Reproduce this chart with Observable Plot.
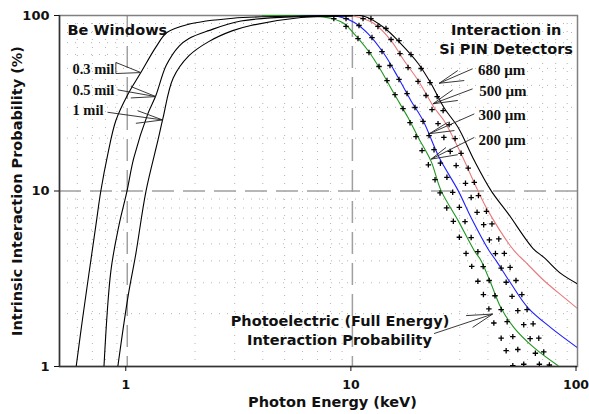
<!DOCTYPE html>
<html><head><meta charset="utf-8">
<script src="https://cdn.jsdelivr.net/npm/d3@7"></script>
<script src="https://cdn.jsdelivr.net/npm/@observablehq/plot@0.6"></script>
<style>body{margin:0;background:#fff}</style>
</head><body><div id="chart"></div>
<script>
// ---- axes / grid values ----
const xTicks = [1, 10, 100];
const yTicks = [1, 10, 100];
const xMinor = [0.6, 0.7, 0.8, 0.9, 2, 3, 4, 5, 6, 7, 8, 9, 20, 30, 40, 50, 60, 70, 80, 90];
const yMinor = [2, 3, 4, 5, 6, 7, 8, 9, 20, 30, 40, 50, 60, 70, 80, 90];
const xMajor = [1, 10];
const yMajor = [10];

// ---- Be window transmission curves [keV, %] ----
const be03 = [[0.593,1],[0.633,1.87],[0.725,6.35],[0.763,10],[0.82,16.3],[0.89,25.2],[1.0,35],[1.149,47.3],[1.34,66],[1.5,80],[1.86,89],[2.95,96.5],[5.9,99.3],[10,99.9]];
const be05 = [[0.788,1],[0.846,3.52],[0.918,6.35],[0.996,9.93],[1.07,15.5],[1.235,27.6],[1.34,35],[1.49,52],[1.7,67],[1.88,74],[2.3,82],[3.2,93],[5.92,98.7],[10,99.9]];
const be1  = [[0.908,1],[1.006,2.47],[1.092,4.4],[1.21,9.93],[1.368,19.4],[1.44,25.9],[1.6,44],[1.88,59],[2.3,71],[2.94,82],[3.54,87.7],[5.92,97.4],[10,99.9]];

// ---- Si PIN total interaction probability [keV, %] ----
const si680 = [[5,100],[9,99.9],[11.27,99],[13.8,85.4],[16.4,69.2],[19.6,53.3],[22.35,41],[25.5,29.9],[29.5,23],[34.8,14.9],[41.3,10.05],[49.2,7.43],[63.5,4.7],[71.1,4.17],[84.5,3.38],[100,2.96]];
const si500 = [[5,100],[8,99.8],[10.16,99],[12.47,90],[14.85,72],[16.96,55.4],[19.6,42.6],[23.07,29.9],[25.5,25.2],[30.4,16.3],[36.1,10.05],[40,7.73],[52.3,4.57],[57.9,4.01],[71.1,3.08],[87.3,2.47],[100,2.14]];
const si300 = [[4,100],[7,99.8],[8.9,97.8],[10.16,91.6],[11.73,78.9],[13.8,60.7],[15.97,44.3],[18.2,32.7],[20.6,25.2],[24.3,15.5],[29.5,10.05],[33.7,7.05],[40.5,4.57],[43.5,4.01],[50.7,2.96],[60.3,2.16],[76.3,1.66],[100,1.28]];
const si200 = [[4,100],[6,99.7],[7.2,98.5],[8.17,95.8],[9.18,90],[10.16,78.9],[11.73,63.2],[13.4,48.6],[15.3,35.9],[17.66,26.2],[19.6,20.2],[22.35,14.8],[24.77,10.05],[29.5,6.78],[34.8,4.57],[37.3,4.01],[41.3,2.96],[45.7,2.16],[52.3,1.66],[64.1,1.28],[82,1.01]];

// ---- Photoelectric (full energy) probability markers [keV, %] ----
const pe200 = [[8.27,96.1],[9.37,86.6],[10.59,73.9],[11.85,61.5],[13.13,51.2],[14.25,42.6],[15.47,35.4],[16.78,29.5],[18.03,24.5],[19.17,20.4],[20.39,17.0],[21.75,14.1],[23.29,11.6],[24.51,9.75],[26.25,8.01],[28.08,6.72],[29.87,5.45],[31.98,4.41],[33.9,3.72],[36.1,3.06],[38.2,2.57],[40.4,2.13],[42.5,1.77],[45.8,1.45],[48.2,1.23],[51.6,1.01]];
const pe300 = [[9.37,96.1],[10.7,87.7],[12.22,74.9],[13.54,62.3],[14.69,51.9],[16.11,43.2],[17.49,35.9],[18.97,29.9],[20.6,24.9],[21.9,20.7],[23.05,17.2],[24.6,14.4],[26.3,11.97],[27.9,9.83],[29.87,8.07],[31.65,6.69],[33.7,5.43],[36.1,4.51],[38.1,3.71],[40.5,3.09],[43.0,2.53],[45.8,2.11],[48.7,1.8],[51.6,1.48],[54.3,1.25],[57.7,1.03]];
const pe500 = [[11.15,96.1],[12.99,86.6],[14.85,73.0],[16.27,60.7],[17.67,50.5],[19.57,42.1],[21.24,35.0],[22.58,29.1],[24.01,24.2],[25.5,20.2],[27.2,16.8],[28.9,13.96],[31.8,11.06],[33.7,9.17],[35.8,7.56],[38.3,6.43],[40.6,5.26],[43.2,4.4],[45.8,3.64],[48.2,3.02],[51.2,2.51],[54.3,2.08],[57.7,1.73],[61.6,1.44],[65.0,1.19],[67.7,1.03]];
const pe680 = [[12.09,96.1],[14.1,84.3],[16.11,72.0],[18.21,59.9],[20.2,49.9],[22.13,41.5],[23.8,34.5],[25.3,28.7],[26.9,23.9],[28.6,19.9],[30.4,16.4],[32.7,13.5],[34.8,11.2],[36.3,9.41],[39.4,7.66],[41.7,6.49],[44.7,5.33],[47.3,4.41],[50.2,3.67],[53.3,3.09],[56.6,2.57],[59.7,2.11],[63.5,1.75],[67.3,1.45],[70.8,1.21],[75.0,1.02]];

// ---- labels ----
const beLabels = ["0.3 mil", "0.5 mil", "1 mil"];
const siLabels = ["680 µm", "500 µm", "300 µm", "200 µm"];
const siColors = ["#000000", "#e87a7a", "#1f1fff", "#1e961e"];

// ---- build tables ----
const beCurves = [be03, be05, be1].flatMap((s, i) => s.map(([x, y]) => ({x, y, s: beLabels[i]})));
const siCurves = [si680, si500, si300, si200].flatMap((s, i) => s.map(([x, y]) => ({x, y, s: siLabels[i]})));
const peDots = [pe680, pe500, pe300, pe200].flatMap((s, i) => s.map(([x, y]) => ({x, y, s: siLabels[i]})));

// annotation texts (data coordinates)
const beLabelPos = [{t: "0.3 mil", x: 0.571, y: 49.2}, {t: "0.5 mil", x: 0.571, y: 37.6}, {t: "1 mil", x: 0.571, y: 28.7}];
const siLabelPos = [{t: "680 µm", x: 36.1, y: 48.6}, {t: "500 µm", x: 36.6, y: 37.0}, {t: "300 µm", x: 36.3, y: 26.9}, {t: "200 µm", x: 36.3, y: 19.6}];
// leader segments [x1,y1,x2,y2]
const leaders = [
  [0.89,54.0,1.149,47.3],[0.89,46.7,1.149,47.3],[0.89,54.0,0.89,46.7],
  [0.906,37.7,1.34,34.5],[1.037,39.4,1.34,34.5],[1.037,33.9,1.34,34.5],
  [0.817,28.1,1.435,25.4],[1.111,28.7,1.435,25.4],[1.092,24.3,1.435,25.4],
  [34.2,49.7,24.3,41.1],[29.4,48.6,24.3,41.1],[31.4,42.6,24.3,41.1],
  [34.2,38.2,22.8,31.4],[27.9,37.7,22.8,31.4],[29.4,32.8,22.8,31.4],
  [34.8,27.5,21.97,21.2],[26.5,24.6,21.97,21.2],[28.4,22.1,21.97,21.2],
  [34.8,20.2,22.4,15.2],[26.06,17.7,22.4,15.2],[29.4,16.1,22.4,15.2],
  [23.05,1.54,42.0,1.99],[32.0,1.95,42.0,1.99],[34.2,1.67,42.0,1.99]
];

const sans = "'DejaVu Sans', Verdana, sans-serif";
const serif = "'Liberation Serif', 'Times New Roman', serif";
const big = 14.5;

const chart = Plot.plot({
  width: 589, height: 414,
  marginLeft: 59, marginRight: 12, marginTop: 15, marginBottom: 48,
  style: {fontFamily: sans, fontSize: "13px", fontWeight: "bold", background: "#fff", color: "#111"},
  x: {type: "log", domain: [0.5, 100], label: null},
  y: {type: "log", domain: [1, 100], label: null},
  color: {domain: siLabels, range: siColors},
  marks: [
    Plot.ruleX(xMinor, {stroke: "#b4b4b4", strokeDasharray: "1,7"}),
    Plot.ruleY(yMinor, {stroke: "#b4b4b4", strokeDasharray: "1,7"}),
    Plot.ruleX(xMajor, {stroke: "#a0a0a0", strokeWidth: 1.5, strokeDasharray: "22,9"}),
    Plot.ruleY(yMajor, {stroke: "#a0a0a0", strokeWidth: 1.5, strokeDasharray: "22,9"}),
    Plot.frame({stroke: "#808080", strokeWidth: 1.5}),
    Plot.ruleX([0.5], {stroke: "#333", strokeWidth: 1.5}),
    Plot.ruleY([1], {stroke: "#333", strokeWidth: 1.5}),
    Plot.axisX({ticks: xTicks, tickFormat: d => String(d), tickSize: 5, tickPadding: 9, fontSize: 12.5, dx: -1.5, label: null}),
    Plot.axisY({ticks: yTicks, tickFormat: d => String(d), tickSize: 5, tickPadding: 5, fontSize: 13, label: null}),
    Plot.line(siCurves, {x: "x", y: "y", z: "s", stroke: "s", strokeWidth: 1.1, curve: "catmull-rom", clip: true}),
    Plot.line(beCurves, {x: "x", y: "y", z: "s", stroke: "#000", strokeWidth: 1.1, curve: "catmull-rom", clip: true}),
    Plot.dot(peDots, {x: "x", y: "y", symbol: "plus", r: 1.9, stroke: "#000", strokeWidth: 1.3, clip: true}),
    Plot.link(leaders, {x1: d => d[0], y1: d => d[1], x2: d => d[2], y2: d => d[3], stroke: "#222", strokeWidth: 0.9}),
    Plot.text(["Be Windows"], {x: 0.543, y: 82.1, textAnchor: "start", fontSize: big, fontWeight: "bold", fontFamily: sans, fill: "#111"}),
    Plot.text(beLabelPos, {x: "x", y: "y", text: "t", textAnchor: "start", fontSize: 14.5, fontWeight: "bold", fontFamily: serif, fill: "#111"}),
    Plot.text(["Interaction in"], {x: 48.2, y: 82.1, fontSize: big, fontWeight: "bold", fontFamily: sans, fill: "#111"}),
    Plot.text(["Si PIN Detectors"], {x: 48.2, y: 64.4, fontSize: big, fontWeight: "bold", fontFamily: sans, fill: "#111"}),
    Plot.text(siLabelPos, {x: "x", y: "y", text: "t", textAnchor: "start", fontSize: 15, fontWeight: "bold", fontFamily: serif, fill: "#111"}),
    Plot.text(["Photoelectric (Full Energy)"], {x: 8.81, y: 1.81, fontSize: big, fontWeight: "bold", fontFamily: sans, fill: "#111"}),
    Plot.text(["Interaction Probability"], {x: 8.76, y: 1.40, fontSize: big, fontWeight: "bold", fontFamily: sans, fill: "#111"}),
    Plot.text(["Intrinsic Interaction Probability (%)"], {frameAnchor: "left", textAnchor: "middle", dx: -42, rotate: -90, fontSize: big, fontWeight: "bold", fontFamily: sans, fill: "#111"}),
    Plot.text(["Photon Energy (keV)"], {frameAnchor: "bottom", textAnchor: "middle", dx: 14, dy: 40, fontSize: big, fontWeight: "bold", fontFamily: sans, fill: "#111"})
  ]
});
document.getElementById("chart").appendChild(chart);
</script>
</body></html>
